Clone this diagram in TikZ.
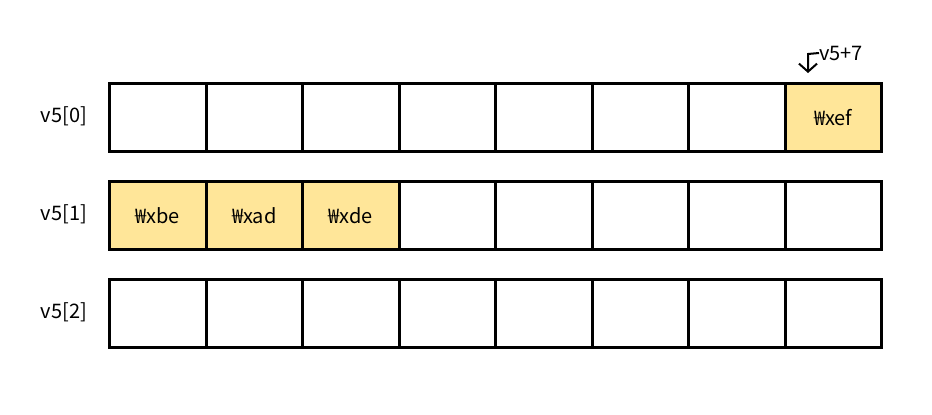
\documentclass[tikz,border=0pt]{standalone}
\usepackage{fontspec}
\setmainfont{Noto Sans CJK KR}
\usetikzlibrary{arrows.meta}
\definecolor{cellfill}{HTML}{FFE699}
\begin{document}
\begin{tikzpicture}[x=1pt,y=-1pt,
  cell/.style={draw=black,line width=3pt,minimum width=96.5pt,minimum height=68pt,inner sep=0pt,anchor=north west,font=\fontsize{20}{24}\selectfont},
  hot/.style={cell,fill=cellfill},
  rowlabel/.style={font=\fontsize{20}{24}\selectfont,inner sep=0pt},
  ]
\useasboundingbox (0,0) rectangle (932,415);
\foreach \r/\y in {0/82,1/180,2/278}{
  \node[rowlabel] (lab\r) at (64,\y+34) {v5[\r]};
}
% row 0
\foreach \c in {0,...,6}{
  \node[cell] (a\c) at (108+96.5*\c,82) {};
}
\node[hot] (a7) at (108+96.5*7,82) {₩xef};
% row 1
\node[hot] (b0) at (108,180) {₩xbe};
\node[hot] (b1) at (108+96.5,180) {₩xad};
\node[hot] (b2) at (108+96.5*2,180) {₩xde};
\foreach \c in {3,...,7}{
  \node[cell] (b\c) at (108+96.5*\c,180) {};
}
% row 2
\foreach \c in {0,...,7}{
  \node[cell] (c\c) at (108+96.5*\c,278) {};
}
\node[rowlabel,anchor=west] (ptr) at (819,53) {v5+7};
\coordinate (tip) at (808,73);
\draw[line width=2pt,-{Straight Barb[length=8pt,width=18pt]}] (ptr.west) -- (808,54) .. controls (808,60) .. (tip);
\end{tikzpicture}
\end{document}
